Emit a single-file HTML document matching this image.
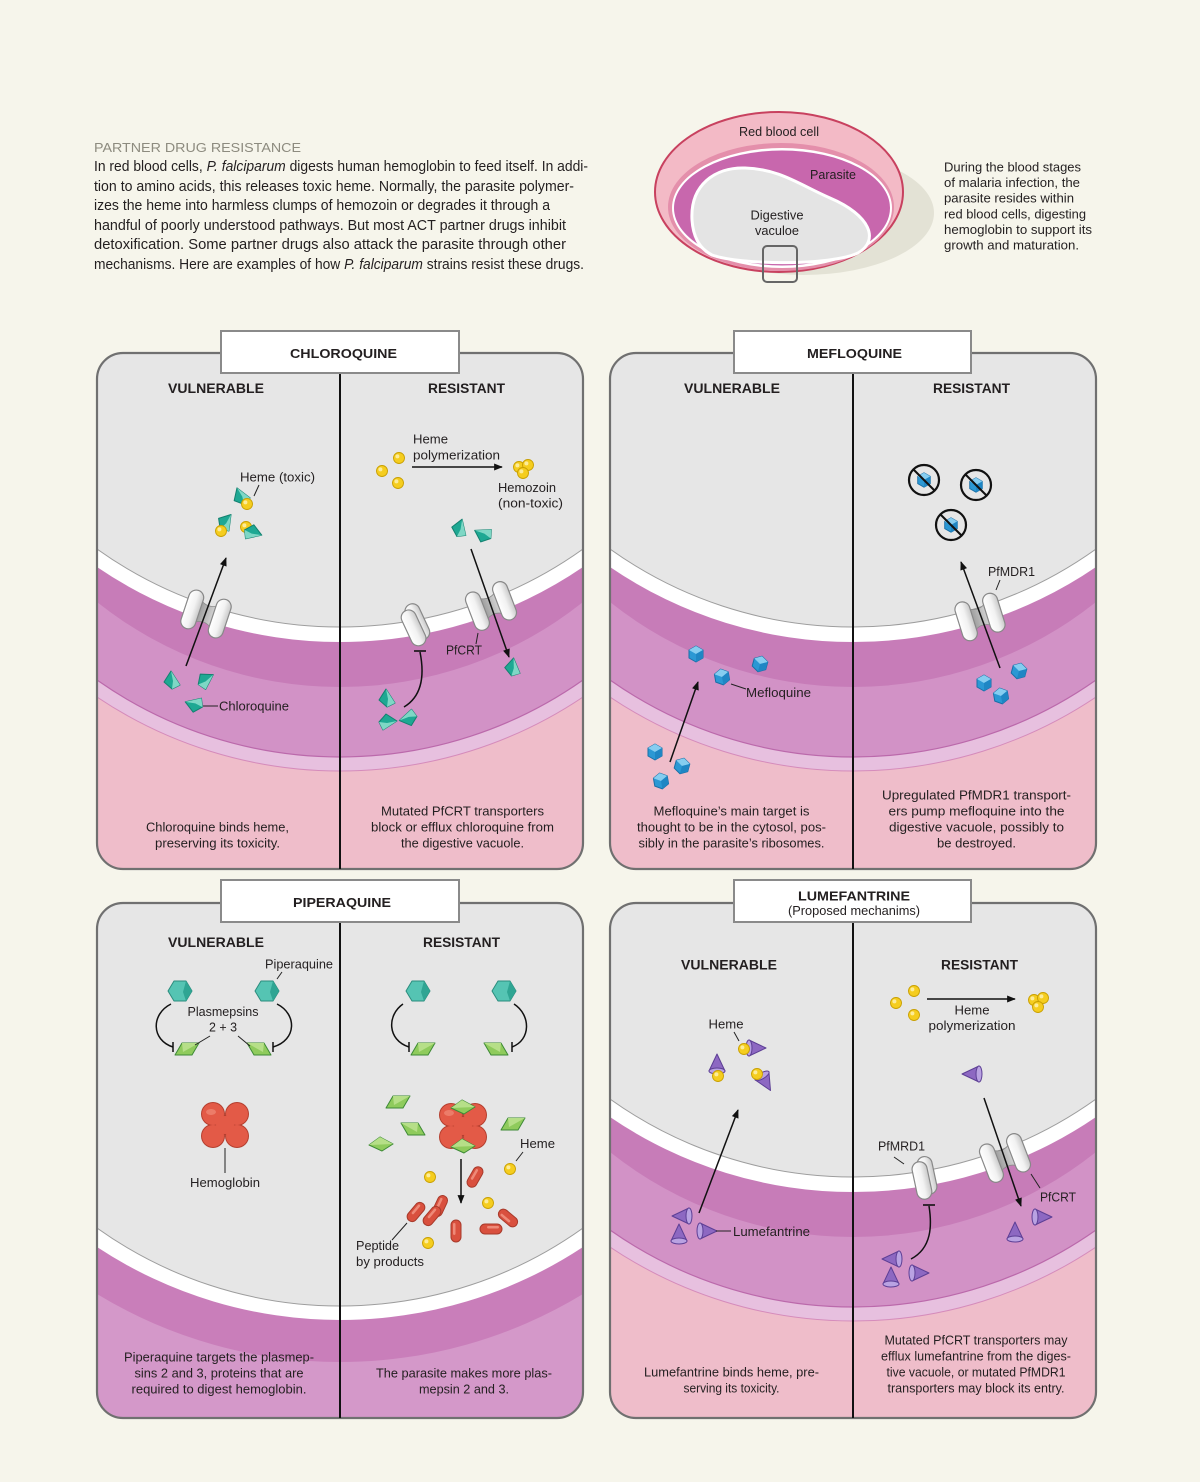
<!DOCTYPE html>
<html><head><meta charset="utf-8"><style>
html,body{margin:0;padding:0;background:#f6f5eb;}
svg{display:block;}
text{font-family:"Liberation Sans",Arial,sans-serif;fill:#231f20;}
.b{font-weight:bold;}
.m{text-anchor:middle;}
</style></head><body>
<svg width="1200" height="1482" viewBox="0 0 1200 1482" xmlns="http://www.w3.org/2000/svg">
<defs>
 <linearGradient id="gcap" x1="0" x2="1" y1="0" y2="0"><stop offset="0" stop-color="#ffffff"/><stop offset="0.55" stop-color="#f2f2f2"/><stop offset="1" stop-color="#c9c9c9"/></linearGradient>
 <linearGradient id="gcon" x1="0" x2="1"><stop offset="0" stop-color="#9c9c9c"/><stop offset="1" stop-color="#d4d4d4"/></linearGradient>
 <marker id="ah" viewBox="0 0 10 8" refX="9" refY="4" markerWidth="9" markerHeight="7" markerUnits="userSpaceOnUse" orient="auto"><path d="M0,0 L10,4 L0,8 Z" fill="#111"/></marker>
 <clipPath id="c1"><rect x="97" y="353" width="486" height="516" rx="26"/></clipPath>
 <clipPath id="c2"><rect x="610" y="353" width="486" height="516" rx="26"/></clipPath>
 <clipPath id="c3"><rect x="97" y="903" width="486" height="515" rx="26"/></clipPath>
 <clipPath id="c4"><rect x="610" y="903" width="486" height="515" rx="26"/></clipPath>

 <g id="pyr"><polygon points="-8,2 -1,-9 8,5 0,9" fill="#1ea893" stroke="#13806f" stroke-width="1" stroke-linejoin="round"/><polygon points="-1,-9 8,5 0,9 1,1" fill="#7ed7c5"/></g>
 <g id="hm"><circle r="5.5" fill="#f5cd1f" stroke="#c9a000" stroke-width="0.9"/><circle cx="-1.6" cy="-1.6" r="2" fill="#fcec9a"/></g>
 <g id="cube"><polygon points="0,-8 7,-4 7,4 0,8 -7,4 -7,-4" fill="#2b98d4" stroke="#1a6fa6" stroke-width="1" stroke-linejoin="round"/><polygon points="-7,-4 0,-8 7,-4 0,0" fill="#86cdf0"/><polygon points="0,0 7,-4 7,4 0,8" fill="#1f86c4"/></g>
 <g id="xc"><circle r="15" fill="#e6e6e6" stroke="#111" stroke-width="2.2"/><use href="#cube" transform="scale(0.9)"/><line x1="-10.5" y1="-10.5" x2="10.5" y2="10.5" stroke="#111" stroke-width="2"/></g>
 <g id="hex"><polygon points="-12,0 -6,-10 6,-10 12,0 6,10 -6,10" fill="#55c4b3" stroke="#2b8c7d" stroke-width="1" stroke-linejoin="round"/><polygon points="6,-10 12,0 6,10 3,1" fill="#2fa593"/></g>
 <g id="rh"><polygon points="-12,6 -5,-6 12,-6 5,6" fill="#8fcb5c" stroke="#3d8a36" stroke-width="1" stroke-linejoin="round"/><polygon points="-5,-6 12,-6 -4,3" fill="#b6df88"/></g>
 <g id="dm"><polygon points="-12,1 -1,-7 12,0 1,7" fill="#8fcb5c" stroke="#3d8a36" stroke-width="1" stroke-linejoin="round"/><polygon points="-12,1 -1,-7 12,0" fill="#b6df88"/></g>
 <g id="hb">
  <g fill="#b53f2f"><circle cx="-12" cy="-11" r="12"/><circle cx="12" cy="-11" r="12"/><circle cx="-12" cy="11" r="12"/><circle cx="12" cy="11" r="12"/><circle r="10"/></g>
  <g fill="#e35a47"><circle cx="-12" cy="-11" r="11"/><circle cx="12" cy="-11" r="11"/><circle cx="-12" cy="11" r="11"/><circle cx="12" cy="11" r="11"/><circle r="9"/></g>
  <ellipse cx="-14" cy="-13" rx="5" ry="3" fill="#f08a78" opacity="0.7"/>
 </g>
 <g id="pill"><rect x="-5" y="-11" width="10" height="22" rx="5" fill="#d9503e" stroke="#a83a2b" stroke-width="1"/><rect x="-3" y="-8" width="2.5" height="12" rx="1.2" fill="#ee8a78"/></g>
 <g id="cone"><path d="M-6,-8 L11,0 L-6,8 Z" fill="#8d68c2" stroke="#5d3f95" stroke-width="1" stroke-linejoin="round"/><ellipse cx="-6" cy="0" rx="3" ry="8" fill="#b9a2e2" stroke="#5d3f95" stroke-width="1"/></g>
 <g id="tr">
  <path d="M-8,-11 Q0,-6 8,-11 L8,11 Q0,6 -8,11 Z" fill="url(#gcon)" stroke="#8a8a8a" stroke-width="0.8"/>
  <rect x="-22" y="-20" width="15" height="40" rx="7.5" fill="url(#gcap)" stroke="#888" stroke-width="1.2"/>
  <rect x="7" y="-20" width="15" height="40" rx="7.5" fill="url(#gcap)" stroke="#888" stroke-width="1.2"/>
 </g>
 <g id="trb">
  <rect x="-4" y="-21" width="15" height="38" rx="7.5" fill="url(#gcap)" stroke="#888" stroke-width="1.2"/>
  <rect x="-10" y="-17" width="15" height="38" rx="7.5" fill="url(#gcap)" stroke="#888" stroke-width="1.2"/>
 </g>
</defs>

<rect x="0" y="0" width="1200" height="1482" fill="#f6f5eb"/>

<!-- ===== INTRO TEXT ===== -->
<text x="94" y="152" font-size="13" style="fill:#8d8b7f" textLength="207" lengthAdjust="spacingAndGlyphs">PARTNER DRUG RESISTANCE</text>
<g font-size="14.5">
<text x="94" y="171" textLength="494" lengthAdjust="spacingAndGlyphs">In red blood cells, <tspan font-style="italic">P. falciparum</tspan> digests human hemoglobin to feed itself. In addi-</text>
<text x="94" y="191" textLength="480" lengthAdjust="spacingAndGlyphs">tion to amino acids, this releases toxic heme. Normally, the parasite polymer-</text>
<text x="94" y="210" textLength="456" lengthAdjust="spacingAndGlyphs">izes the heme into harmless clumps of hemozoin or degrades it through a</text>
<text x="94" y="230" textLength="472" lengthAdjust="spacingAndGlyphs">handful of poorly understood pathways. But most ACT partner drugs inhibit</text>
<text x="94" y="249" textLength="472" lengthAdjust="spacingAndGlyphs">detoxification. Some partner drugs also attack the parasite through other</text>
<text x="94" y="269" textLength="490" lengthAdjust="spacingAndGlyphs">mechanisms. Here are examples of how <tspan font-style="italic">P. falciparum</tspan> strains resist these drugs.</text>
</g>

<!-- ===== CELL DIAGRAM ===== -->
<ellipse cx="804" cy="213" rx="130" ry="62" fill="#e3e2d5"/>
<ellipse cx="779" cy="192" rx="124" ry="80" fill="#f3bac6" stroke="#c8415f" stroke-width="2"/>
<ellipse cx="781" cy="207" rx="113" ry="64" fill="#e48fab"/>
<ellipse cx="782" cy="208" rx="110" ry="60" fill="#ffffff"/>
<ellipse cx="782" cy="208" rx="108" ry="57.5" fill="#c867ad"/>
<path d="M692,220 C690,185 715,167 745,168 C780,169 800,185 830,198 C870,215 880,240 858,253 C830,266 740,265 712,255 C698,248 693,235 692,220 Z" fill="#e4e4e4" stroke="#ffffff" stroke-width="3"/>
<rect x="763" y="246" width="34" height="36" rx="4" fill="none" stroke="#666" stroke-width="2"/>
<g font-size="12.5">
<text class="m" x="779" y="136" textLength="80" lengthAdjust="spacingAndGlyphs">Red blood cell</text>
<text class="m" x="833" y="179" textLength="46" lengthAdjust="spacingAndGlyphs">Parasite</text>
<text class="m" x="777" y="219.5" textLength="53" lengthAdjust="spacingAndGlyphs">Digestive</text>
<text class="m" x="777" y="235" textLength="44" lengthAdjust="spacingAndGlyphs">vaculoe</text>
<text x="944" y="171.5" textLength="137" lengthAdjust="spacingAndGlyphs">During the blood stages</text>
<text x="944" y="187" textLength="136" lengthAdjust="spacingAndGlyphs">of malaria infection, the</text>
<text x="944" y="202.5" textLength="130" lengthAdjust="spacingAndGlyphs">parasite resides within</text>
<text x="944" y="218.5" textLength="142" lengthAdjust="spacingAndGlyphs">red blood cells, digesting</text>
<text x="944" y="234" textLength="148" lengthAdjust="spacingAndGlyphs">hemoglobin to support its</text>
<text x="944" y="249.5" textLength="135" lengthAdjust="spacingAndGlyphs">growth and maturation.</text>
</g>

<!-- ===== PANEL 1 CHLOROQUINE ===== -->
<g clip-path="url(#c1)">
 <rect x="97" y="353" width="486" height="516" fill="#efbdca"/>
 <path d="M97,340 L97,697 A436,436 0 0 0 583,697 L583,340 Z" fill="#e7c0df"/>
 <path d="M97,340 L97,680 A422,422 0 0 0 583,680 L583,340 Z" fill="#d292c6"/>
 <path d="M97,340 L97,602 A390,390 0 0 0 583,602 L583,340 Z" fill="#c77cb8"/>
 <path d="M97,340 L97,567 A431,431 0 0 0 583,567 L583,340 Z" fill="#ffffff"/>
 <path d="M97,340 L97,549 A417.5,417.5 0 0 0 583,549 L583,340 Z" fill="#e6e6e6"/>
 <path d="M97,549 A417.5,417.5 0 0 0 583,549" fill="none" stroke="#9d9d9d" stroke-width="1"/>
 <path d="M97,680 A422,422 0 0 0 583,680" fill="none" stroke="#bb69ab" stroke-width="1.2"/>
 <path d="M97,697 A436,436 0 0 0 583,697" fill="none" stroke="#d58bbb" stroke-width="1"/>
</g>
<rect x="97" y="353" width="486" height="516" rx="26" fill="none" stroke="#707070" stroke-width="2.2"/>
<line x1="340" y1="373" x2="340" y2="869" stroke="#111" stroke-width="2"/>
<rect x="221" y="331" width="238" height="42" fill="#fff" stroke="#8a8a8a" stroke-width="2"/>
<text class="m b" x="343.5" y="358" font-size="13" textLength="107" lengthAdjust="spacingAndGlyphs">CHLOROQUINE</text>
<text class="m b" x="216" y="393" font-size="13.5" textLength="96" lengthAdjust="spacingAndGlyphs">VULNERABLE</text>
<text class="m b" x="466.5" y="393" font-size="13.5" textLength="77" lengthAdjust="spacingAndGlyphs">RESISTANT</text>

<!-- P1 vulnerable -->
<use href="#tr" transform="translate(206,614) rotate(18.4)"/>
<line x1="186" y1="666" x2="226" y2="558" stroke="#111" stroke-width="1.5" marker-end="url(#ah)"/>
<use href="#pyr" transform="translate(241,496) rotate(-20)"/><use href="#hm" transform="translate(247,504)"/>
<use href="#pyr" transform="translate(226,522) rotate(40)"/><use href="#hm" transform="translate(221,531)"/>
<use href="#hm" transform="translate(246,527)"/><use href="#pyr" transform="translate(253,533) rotate(110)"/>
<line x1="259" y1="485" x2="254" y2="496" stroke="#222" stroke-width="1"/>
<text x="240" y="481.5" font-size="13" textLength="75" lengthAdjust="spacingAndGlyphs">Heme (toxic)</text>
<use href="#pyr" transform="translate(172,680)"/>
<use href="#pyr" transform="translate(206,680) rotate(60)"/>
<use href="#pyr" transform="translate(194,704) rotate(-70)"/>
<line x1="203" y1="706" x2="218" y2="706" stroke="#222" stroke-width="1"/>
<text x="219" y="710.5" font-size="13" textLength="70" lengthAdjust="spacingAndGlyphs">Chloroquine</text>
<g font-size="13">
<text class="m" x="217.5" y="831.5" textLength="143" lengthAdjust="spacingAndGlyphs">Chloroquine binds heme,</text>
<text class="m" x="217.5" y="847.5" textLength="125" lengthAdjust="spacingAndGlyphs">preserving its toxicity.</text>
</g>

<!-- P1 resistant -->
<use href="#hm" transform="translate(399,458)"/><use href="#hm" transform="translate(382,471)"/><use href="#hm" transform="translate(398,483)"/>
<line x1="412" y1="467" x2="502" y2="467" stroke="#111" stroke-width="1.5" marker-end="url(#ah)"/>
<text x="413" y="443.5" font-size="13" textLength="35" lengthAdjust="spacingAndGlyphs">Heme</text>
<text x="413" y="459.5" font-size="13" textLength="87" lengthAdjust="spacingAndGlyphs">polymerization</text>
<use href="#hm" transform="translate(519,467)"/><use href="#hm" transform="translate(528,465)"/><use href="#hm" transform="translate(523,473)"/>
<text x="498" y="492" font-size="13" textLength="58" lengthAdjust="spacingAndGlyphs">Hemozoin</text>
<text x="498" y="507.5" font-size="13" textLength="65" lengthAdjust="spacingAndGlyphs">(non-toxic)</text>
<use href="#pyr" transform="translate(460,528) rotate(20)"/>
<use href="#pyr" transform="translate(483,534) rotate(-60)"/>
<use href="#tr" transform="translate(491,606) rotate(-20.9)"/>
<line x1="471" y1="549" x2="509" y2="657" stroke="#111" stroke-width="1.5" marker-end="url(#ah)"/>
<use href="#trb" transform="translate(415,625) rotate(-25)"/>
<line x1="414" y1="651" x2="426" y2="651" stroke="#111" stroke-width="1.6"/>
<path d="M404,707 C424,695 424,672 420,652" fill="none" stroke="#111" stroke-width="1.5"/>
<line x1="478" y1="633" x2="476" y2="644" stroke="#222" stroke-width="1"/>
<text x="446" y="654.5" font-size="13" textLength="36" lengthAdjust="spacingAndGlyphs">PfCRT</text>
<use href="#pyr" transform="translate(513,667) rotate(10)"/>
<use href="#pyr" transform="translate(387,698)"/>
<use href="#pyr" transform="translate(388,722) rotate(90)"/>
<use href="#pyr" transform="translate(408,718) rotate(-100)"/>
<g font-size="13">
<text class="m" x="462.5" y="815.5" textLength="163" lengthAdjust="spacingAndGlyphs">Mutated PfCRT transporters</text>
<text class="m" x="462.5" y="831.5" textLength="183" lengthAdjust="spacingAndGlyphs">block or efflux chloroquine from</text>
<text class="m" x="462.5" y="847.5" textLength="123" lengthAdjust="spacingAndGlyphs">the digestive vacuole.</text>
</g>

<!-- ===== PANEL 2 MEFLOQUINE ===== -->
<g clip-path="url(#c2)">
 <rect x="610" y="353" width="486" height="516" fill="#efbdca"/>
 <path d="M610,340 L610,697 A436,436 0 0 0 1096,697 L1096,340 Z" fill="#e7c0df"/>
 <path d="M610,340 L610,680 A422,422 0 0 0 1096,680 L1096,340 Z" fill="#d292c6"/>
 <path d="M610,340 L610,602 A390,390 0 0 0 1096,602 L1096,340 Z" fill="#c77cb8"/>
 <path d="M610,340 L610,567 A431,431 0 0 0 1096,567 L1096,340 Z" fill="#ffffff"/>
 <path d="M610,340 L610,549 A417.5,417.5 0 0 0 1096,549 L1096,340 Z" fill="#e6e6e6"/>
 <path d="M610,549 A417.5,417.5 0 0 0 1096,549" fill="none" stroke="#9d9d9d" stroke-width="1"/>
 <path d="M610,680 A422,422 0 0 0 1096,680" fill="none" stroke="#bb69ab" stroke-width="1.2"/>
 <path d="M610,697 A436,436 0 0 0 1096,697" fill="none" stroke="#d58bbb" stroke-width="1"/>
</g>
<rect x="610" y="353" width="486" height="516" rx="26" fill="none" stroke="#707070" stroke-width="2.2"/>
<line x1="853" y1="373" x2="853" y2="869" stroke="#111" stroke-width="2"/>
<rect x="734" y="331" width="237" height="42" fill="#fff" stroke="#8a8a8a" stroke-width="2"/>
<text class="m b" x="854.5" y="358" font-size="13" textLength="95" lengthAdjust="spacingAndGlyphs">MEFLOQUINE</text>
<text class="m b" x="732" y="393" font-size="13.5" textLength="96" lengthAdjust="spacingAndGlyphs">VULNERABLE</text>
<text class="m b" x="971.5" y="393" font-size="13.5" textLength="77" lengthAdjust="spacingAndGlyphs">RESISTANT</text>

<use href="#cube" transform="translate(696,654)"/>
<use href="#cube" transform="translate(760,664) rotate(15)"/>
<use href="#cube" transform="translate(722,677) rotate(-10)"/>
<use href="#cube" transform="translate(655,752)"/>
<use href="#cube" transform="translate(682,766) rotate(15)"/>
<use href="#cube" transform="translate(661,781) rotate(-10)"/>
<line x1="731" y1="684" x2="746" y2="689" stroke="#222" stroke-width="1"/>
<text x="746" y="697" font-size="13" textLength="65" lengthAdjust="spacingAndGlyphs">Mefloquine</text>
<line x1="670" y1="762" x2="698" y2="682" stroke="#111" stroke-width="1.5" marker-end="url(#ah)"/>
<g font-size="13">
<text class="m" x="731.5" y="815.5" textLength="156" lengthAdjust="spacingAndGlyphs">Mefloquine’s main target is</text>
<text class="m" x="731.5" y="831.5" textLength="189" lengthAdjust="spacingAndGlyphs">thought to be in the cytosol, pos-</text>
<text class="m" x="731.5" y="847.5" textLength="186" lengthAdjust="spacingAndGlyphs">sibly in the parasite’s ribosomes.</text>
</g>

<use href="#xc" transform="translate(924,480)"/>
<use href="#xc" transform="translate(976,485)"/>
<use href="#xc" transform="translate(951,525)"/>
<use href="#tr" transform="translate(980,617) rotate(-17.3)"/>
<line x1="1000" y1="668" x2="961" y2="562" stroke="#111" stroke-width="1.5" marker-end="url(#ah)"/>
<line x1="1000" y1="580" x2="996" y2="590" stroke="#222" stroke-width="1"/>
<text x="988" y="576" font-size="13" textLength="47" lengthAdjust="spacingAndGlyphs">PfMDR1</text>
<use href="#cube" transform="translate(984,683)"/>
<use href="#cube" transform="translate(1019,671) rotate(15)"/>
<use href="#cube" transform="translate(1001,696) rotate(-10)"/>
<g font-size="13">
<text class="m" x="976.5" y="799.5" textLength="189" lengthAdjust="spacingAndGlyphs">Upregulated PfMDR1 transport-</text>
<text class="m" x="976.5" y="815.5" textLength="176" lengthAdjust="spacingAndGlyphs">ers pump mefloquine into the</text>
<text class="m" x="976.5" y="831.5" textLength="175" lengthAdjust="spacingAndGlyphs">digestive vacuole, possibly to</text>
<text class="m" x="976.5" y="847.5" textLength="79" lengthAdjust="spacingAndGlyphs">be destroyed.</text>
</g>

<!-- ===== PANEL 3 PIPERAQUINE ===== -->
<g clip-path="url(#c3)">
 <rect x="97" y="903" width="486" height="515" fill="#d498c9"/>
 <path d="M97,890 L97,1294 A468,468 0 0 0 583,1294 L583,890 Z" fill="#c97eba"/>
 <path d="M97,890 L97,1247 A441,441 0 0 0 583,1247 L583,890 Z" fill="#ffffff"/>
 <path d="M97,890 L97,1228 A417.5,417.5 0 0 0 583,1228 L583,890 Z" fill="#e6e6e6"/>
 <path d="M97,1228 A417.5,417.5 0 0 0 583,1228" fill="none" stroke="#9d9d9d" stroke-width="1"/>
</g>
<rect x="97" y="903" width="486" height="515" rx="26" fill="none" stroke="#707070" stroke-width="2.2"/>
<line x1="340" y1="922" x2="340" y2="1418" stroke="#111" stroke-width="2"/>
<rect x="221" y="880" width="238" height="42" fill="#fff" stroke="#8a8a8a" stroke-width="2"/>
<text class="m b" x="342" y="907" font-size="13" textLength="98" lengthAdjust="spacingAndGlyphs">PIPERAQUINE</text>
<text class="m b" x="216" y="947" font-size="13.5" textLength="96" lengthAdjust="spacingAndGlyphs">VULNERABLE</text>
<text class="m b" x="461.5" y="947" font-size="13.5" textLength="77" lengthAdjust="spacingAndGlyphs">RESISTANT</text>

<use href="#hex" transform="translate(180,991)"/>
<use href="#hex" transform="translate(267,991)"/>
<line x1="282" y1="972" x2="277" y2="979" stroke="#222" stroke-width="1"/>
<text x="265" y="968.5" font-size="13" textLength="68" lengthAdjust="spacingAndGlyphs">Piperaquine</text>
<path d="M171,1004 C151,1014 151,1040 173,1047" fill="none" stroke="#111" stroke-width="1.5"/>
<line x1="173" y1="1042" x2="173" y2="1052" stroke="#111" stroke-width="1.5"/>
<path d="M277,1004 C297,1014 297,1040 273,1047" fill="none" stroke="#111" stroke-width="1.5"/>
<line x1="273" y1="1042" x2="273" y2="1052" stroke="#111" stroke-width="1.5"/>
<use href="#rh" transform="translate(187,1049)"/>
<use href="#rh" transform="translate(259,1049) scale(-1,1)"/>
<text class="m" x="223" y="1016" font-size="13" textLength="71" lengthAdjust="spacingAndGlyphs">Plasmepsins</text>
<text class="m" x="223" y="1031.5" font-size="13" textLength="28" lengthAdjust="spacingAndGlyphs">2 + 3</text>
<line x1="210" y1="1036" x2="195" y2="1045" stroke="#222" stroke-width="1"/>
<line x1="238" y1="1036" x2="250" y2="1046" stroke="#222" stroke-width="1"/>
<use href="#hb" transform="translate(225,1125)"/>
<line x1="225" y1="1148" x2="225" y2="1173" stroke="#222" stroke-width="1"/>
<text class="m" x="225" y="1187" font-size="13" textLength="70" lengthAdjust="spacingAndGlyphs">Hemoglobin</text>
<g font-size="13">
<text class="m" x="219" y="1361.5" textLength="190" lengthAdjust="spacingAndGlyphs">Piperaquine targets the plasmep-</text>
<text class="m" x="219" y="1377.5" textLength="169" lengthAdjust="spacingAndGlyphs">sins 2 and 3, proteins that are</text>
<text class="m" x="219" y="1393.5" textLength="175" lengthAdjust="spacingAndGlyphs">required to digest hemoglobin.</text>
</g>

<use href="#hex" transform="translate(418,991)"/>
<use href="#hex" transform="translate(504,991)"/>
<path d="M403,1004 C387,1015 387,1040 409,1047" fill="none" stroke="#111" stroke-width="1.5"/>
<line x1="409" y1="1042" x2="409" y2="1052" stroke="#111" stroke-width="1.5"/>
<path d="M514,1004 C531,1015 531,1040 512,1047" fill="none" stroke="#111" stroke-width="1.5"/>
<line x1="512" y1="1042" x2="512" y2="1052" stroke="#111" stroke-width="1.5"/>
<use href="#rh" transform="translate(423,1049)"/>
<use href="#rh" transform="translate(496,1049) scale(-1,1)"/>
<use href="#rh" transform="translate(398,1102)"/>
<use href="#rh" transform="translate(413,1129) scale(-1,1)"/>
<use href="#dm" transform="translate(381,1144)"/>
<use href="#rh" transform="translate(513,1124)"/>
<use href="#hb" transform="translate(463,1126)"/>
<use href="#dm" transform="translate(463,1107)"/>
<use href="#dm" transform="translate(463,1146)"/>
<line x1="461" y1="1159" x2="461" y2="1203" stroke="#111" stroke-width="1.5" marker-end="url(#ah)"/>
<use href="#pill" transform="translate(475,1177) rotate(30)"/>
<use href="#pill" transform="translate(416,1212) rotate(40)"/>
<use href="#pill" transform="translate(440,1206) rotate(25)"/>
<use href="#pill" transform="translate(432,1216) rotate(40)"/>
<use href="#pill" transform="translate(456,1231)"/>
<use href="#pill" transform="translate(491,1229) rotate(90)"/>
<use href="#pill" transform="translate(508,1218) rotate(-50)"/>
<use href="#hm" transform="translate(430,1177)"/>
<use href="#hm" transform="translate(510,1169)"/>
<use href="#hm" transform="translate(488,1203)"/>
<use href="#hm" transform="translate(428,1243)"/>
<line x1="523" y1="1152" x2="516" y2="1161" stroke="#222" stroke-width="1"/>
<text x="520" y="1148" font-size="13" textLength="35" lengthAdjust="spacingAndGlyphs">Heme</text>
<line x1="407" y1="1223" x2="392" y2="1240" stroke="#222" stroke-width="1"/>
<text x="356" y="1250" font-size="13" textLength="43" lengthAdjust="spacingAndGlyphs">Peptide</text>
<text x="356" y="1266" font-size="13" textLength="68" lengthAdjust="spacingAndGlyphs">by products</text>
<g font-size="13">
<text class="m" x="464" y="1377.5" textLength="176" lengthAdjust="spacingAndGlyphs">The parasite makes more plas-</text>
<text class="m" x="464" y="1393.5" textLength="90" lengthAdjust="spacingAndGlyphs">mepsin 2 and 3.</text>
</g>

<!-- ===== PANEL 4 LUMEFANTRINE ===== -->
<g clip-path="url(#c4)">
 <rect x="610" y="903" width="486" height="515" fill="#efbdca"/>
 <path d="M610,890 L610,1247 A436,436 0 0 0 1096,1247 L1096,890 Z" fill="#e7c0df"/>
 <path d="M610,890 L610,1230 A422,422 0 0 0 1096,1230 L1096,890 Z" fill="#d292c6"/>
 <path d="M610,890 L610,1152 A390,390 0 0 0 1096,1152 L1096,890 Z" fill="#c77cb8"/>
 <path d="M610,890 L610,1117 A431,431 0 0 0 1096,1117 L1096,890 Z" fill="#ffffff"/>
 <path d="M610,890 L610,1099 A417.5,417.5 0 0 0 1096,1099 L1096,890 Z" fill="#e6e6e6"/>
 <path d="M610,1099 A417.5,417.5 0 0 0 1096,1099" fill="none" stroke="#9d9d9d" stroke-width="1"/>
 <path d="M610,1230 A422,422 0 0 0 1096,1230" fill="none" stroke="#bb69ab" stroke-width="1.2"/>
 <path d="M610,1247 A436,436 0 0 0 1096,1247" fill="none" stroke="#d58bbb" stroke-width="1"/>
</g>
<rect x="610" y="903" width="486" height="515" rx="26" fill="none" stroke="#707070" stroke-width="2.2"/>
<line x1="853" y1="922" x2="853" y2="1418" stroke="#111" stroke-width="2"/>
<rect x="734" y="880" width="237" height="42" fill="#fff" stroke="#8a8a8a" stroke-width="2"/>
<text class="m b" x="854" y="900.5" font-size="13" textLength="112" lengthAdjust="spacingAndGlyphs">LUMEFANTRINE</text>
<text class="m" x="854" y="915" font-size="12.5" textLength="132" lengthAdjust="spacingAndGlyphs">(Proposed mechanims)</text>
<text class="m b" x="729" y="969.5" font-size="13.5" textLength="96" lengthAdjust="spacingAndGlyphs">VULNERABLE</text>
<text class="m b" x="979.5" y="969.5" font-size="13.5" textLength="77" lengthAdjust="spacingAndGlyphs">RESISTANT</text>

<text class="m" x="726" y="1028.5" font-size="13" textLength="35" lengthAdjust="spacingAndGlyphs">Heme</text>
<line x1="734" y1="1032" x2="739" y2="1041" stroke="#222" stroke-width="1"/>
<use href="#cone" transform="translate(755,1048)"/><use href="#hm" transform="translate(744,1049)"/>
<use href="#cone" transform="translate(717,1065) rotate(-90)"/><use href="#hm" transform="translate(718,1076)"/>
<use href="#cone" transform="translate(765,1081) rotate(60)"/><use href="#hm" transform="translate(757,1074)"/>
<line x1="699" y1="1213" x2="738" y2="1110" stroke="#111" stroke-width="1.5" marker-end="url(#ah)"/>
<use href="#cone" transform="translate(683,1216) rotate(180)"/>
<use href="#cone" transform="translate(679,1235) rotate(-90)"/>
<use href="#cone" transform="translate(706,1231)"/>
<line x1="716" y1="1231" x2="731" y2="1231" stroke="#222" stroke-width="1"/>
<text x="733" y="1236" font-size="13" textLength="77" lengthAdjust="spacingAndGlyphs">Lumefantrine</text>
<g font-size="13">
<text class="m" x="731.5" y="1376.5" textLength="175" lengthAdjust="spacingAndGlyphs">Lumefantrine binds heme, pre-</text>
<text class="m" x="731.5" y="1392.5" textLength="96" lengthAdjust="spacingAndGlyphs">serving its toxicity.</text>
</g>

<use href="#hm" transform="translate(914,991)"/><use href="#hm" transform="translate(896,1003)"/><use href="#hm" transform="translate(914,1015)"/>
<line x1="927" y1="999" x2="1015" y2="999" stroke="#111" stroke-width="1.5" marker-end="url(#ah)"/>
<text class="m" x="972" y="1014.5" font-size="13" textLength="35" lengthAdjust="spacingAndGlyphs">Heme</text>
<text class="m" x="972" y="1030" font-size="13" textLength="87" lengthAdjust="spacingAndGlyphs">polymerization</text>
<use href="#hm" transform="translate(1034,1000)"/><use href="#hm" transform="translate(1043,998)"/><use href="#hm" transform="translate(1038,1007)"/>
<use href="#cone" transform="translate(973,1074) rotate(180)"/>
<use href="#tr" transform="translate(1005,1158) rotate(-20.9)"/>
<line x1="984" y1="1098" x2="1021" y2="1206" stroke="#111" stroke-width="1.5" marker-end="url(#ah)"/>
<line x1="1031" y1="1174" x2="1040" y2="1188" stroke="#222" stroke-width="1"/>
<text x="1040" y="1201.5" font-size="13" textLength="36" lengthAdjust="spacingAndGlyphs">PfCRT</text>
<line x1="894" y1="1157" x2="904" y2="1164" stroke="#222" stroke-width="1"/>
<text x="878" y="1150.5" font-size="13" textLength="47" lengthAdjust="spacingAndGlyphs">PfMRD1</text>
<use href="#trb" transform="translate(924,1178) rotate(-12)"/>
<line x1="923" y1="1205" x2="935" y2="1205" stroke="#111" stroke-width="1.6"/>
<path d="M911,1259 C932,1248 932,1225 929,1206" fill="none" stroke="#111" stroke-width="1.5"/>
<use href="#cone" transform="translate(1041,1217)"/>
<use href="#cone" transform="translate(1015,1233) rotate(-90)"/>
<use href="#cone" transform="translate(893,1259) rotate(180)"/>
<use href="#cone" transform="translate(891,1278) rotate(-90)"/>
<use href="#cone" transform="translate(918,1273)"/>
<g font-size="13">
<text class="m" x="976" y="1344.5" textLength="183" lengthAdjust="spacingAndGlyphs">Mutated PfCRT transporters may</text>
<text class="m" x="976" y="1360.5" textLength="190" lengthAdjust="spacingAndGlyphs">efflux lumefantrine from the diges-</text>
<text class="m" x="976" y="1376.5" textLength="179" lengthAdjust="spacingAndGlyphs">tive vacuole, or mutated PfMDR1</text>
<text class="m" x="976" y="1392.5" textLength="177" lengthAdjust="spacingAndGlyphs">transporters may block its entry.</text>
</g>
</svg>
</body></html>
